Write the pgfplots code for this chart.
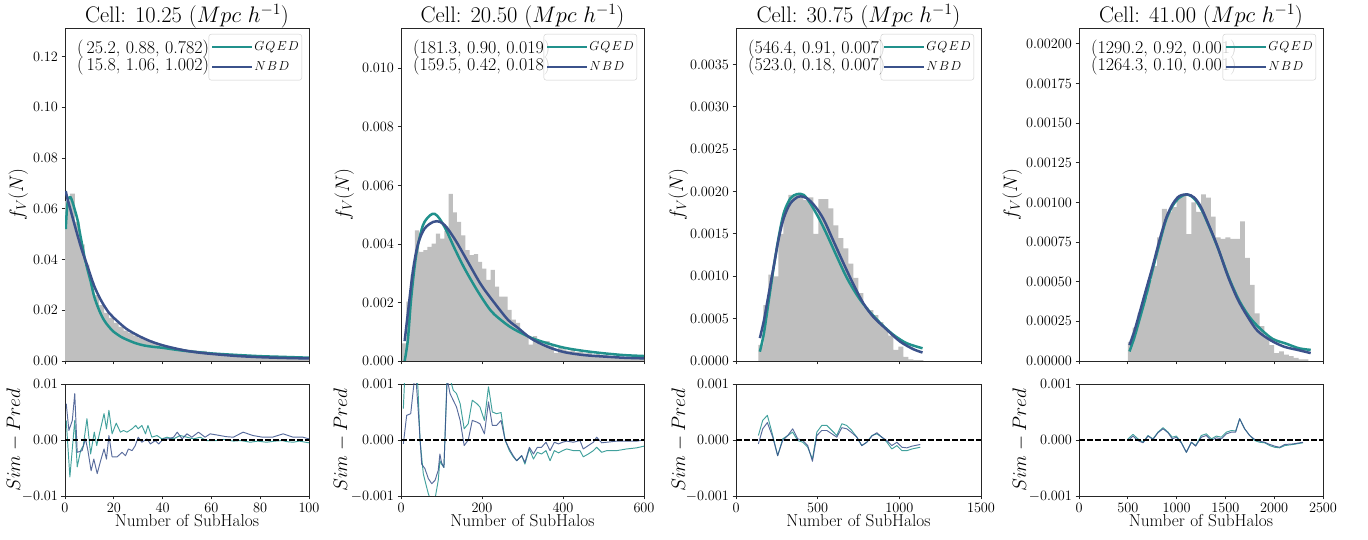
\RequirePackage{fix-cm}
\documentclass[border=0pt]{standalone}
\usepackage{pgfplots}
\pgfplotsset{compat=1.18}
\definecolor{gq}{HTML}{21918C}
\definecolor{nb}{HTML}{3B528B}
\definecolor{hist}{HTML}{BFBFBF}
\pgfplotsset{
  legend image code/.code={\draw[#1] (0pt,0pt) -- (24pt,0pt); \path (0pt,0pt) -- (40pt,0pt);},
  base/.style={scale only axis, width=244pt, tick align=outside, tick pos=left,
    major tick length=3.5pt, axis line style={black!85, line width=0.8pt},
    every tick/.style={black!85, line width=0.8pt},
    tick label style={font=\fontsize{14.3}{14}\selectfont},
    scaled ticks=false, /pgf/number format/1000 sep={},
    every axis title/.style={at={(0.5,1)}, anchor=base, yshift=5pt, inner sep=0pt, font=\fontsize{22.5}{25}\selectfont},
    every axis y label/.style={rotate=90, anchor=base, font=\fontsize{19.5}{22}\selectfont},
  },
  toppanel/.style={base, height=333pt, ymin=0, xticklabel=\empty, ylabel={$f_V(N)$},
    legend cell align=left,
    legend style={at={(1,1)}, anchor=north east, xshift=-7pt, yshift=-6pt,
      draw=black!20, fill=white, fill opacity=0.8, text opacity=1, draw opacity=1,
      rounded corners=2.5pt, font=\fontsize{13}{15}\selectfont,
      inner xsep=2pt, inner ysep=6pt, row sep=6pt,
      nodes={inner sep=1pt, text height=9pt, text depth=3pt}},
  },
  botpanel/.style={base, height=112pt, ymin=-0.001, ymax=0.001,
    ytick={-0.001,0,0.001}, yticklabels={$-0.001$,$0.000$,$0.001$},
    ylabel={$Sim-Pred$}, xlabel={Number of SubHalos},
    every axis x label/.style={at={(axis description cs:0.5,0)}, anchor=base, yshift=-31pt, font=\fontsize{17.3}{20}\selectfont},
  },
  hst/.style={ybar interval, fill=hist, draw=none, forget plot},
  cg/.style={gq, line width=2.5pt, smooth},
  cn/.style={nb, line width=2.5pt, smooth},
  rg/.style={gq, line width=0.95pt, draw opacity=0.85, line join=round},
  rn/.style={nb, line width=0.95pt, draw opacity=0.85, line join=round},
  zl/.style={black, line width=1.3pt, dash pattern=on 5.5pt off 2.5pt},
}
\newcommand{\ann}[2]{%
  \node[anchor=base west, inner sep=0pt, font=\fontsize{18}{17}\selectfont] at ([xshift=12pt,yshift=-26pt]rel axis cs:0,1) {#1};
  \node[anchor=base west, inner sep=0pt, font=\fontsize{18}{17}\selectfont] at ([xshift=12pt,yshift=-43pt]rel axis cs:0,1) {#2};}
\newcommand{\GQ}{$G\mkern1.5mu Q\mkern1.5mu E\mkern1.5mu D$}
\newcommand{\NB}{$N\mkern1.5mu B\mkern1.5mu D$}
\begin{document}
\begin{tikzpicture}
% ================= Panel 1 =================
\begin{axis}[toppanel, at={(65pt,179pt)}, anchor=south west,
  title={Cell: 10.25 $(Mpc\ h^{-1})$},
  xmin=0, xmax=100, ymax=0.1313, xtick={0,20,40,60,80,100},
  ytick={0,0.02,0.04,0.06,0.08,0.10,0.12},
  yticklabels={$0.00$,$0.02$,$0.04$,$0.06$,$0.08$,$0.10$,$0.12$},
  ylabel style={at={(axis description cs:-0.172,0.5)}}]
\addplot[hst] coordinates {(0,0.063)(2,0.066)(4,0.055)(6,0.046)(8,0.038)(10,0.031)(12,0.026)(14,0.022)(16,0.019)(18,0.017)(20,0.015)(22,0.0135)(24,0.012)(26,0.011)(28,0.010)(30,0.0092)(32,0.0085)(34,0.0080)(36,0.0072)(38,0.0066)(40,0.0060)(42,0.0056)(44,0.0052)(46,0.0050)(48,0.0046)(50,0.0044)(52,0.0042)(54,0.0040)(56,0.0040)(58,0.0034)(60,0.0031)(62,0.0029)(64,0.0027)(66,0.0025)(68,0.0023)(70,0.0022)(72,0.0021)(74,0.0020)(76,0.0019)(78,0.0018)(80,0.0016)(82,0.0016)(84,0.0015)(86,0.0014)(88,0.0014)(90,0.0013)(92,0.0013)(94,0.0012)(96,0.0012)(98,0.0011)(100,0)};
\ann{(\,25.2, 0.88, 0.782)}{(\,15.8, 1.06, 1.002)}
\addplot[cg] coordinates {(0.3,0.052)(0.8,0.060)(1.4,0.064)(2.3,0.0645)(3.1,0.0626)(4.2,0.059)(5.2,0.0554)(6.2,0.050)(7.2,0.045)(8.2,0.040)(9.3,0.0358)(10.6,0.031)(12,0.0253)(14,0.020)(16,0.0161)(18,0.0135)(20,0.0115)(23,0.0095)(25.6,0.0083)(29,0.0070)(32.5,0.0061)(36,0.0056)(40,0.0052)(45,0.0045)(50,0.0039)(60,0.0030)(70,0.0024)(80,0.0019)(90,0.0016)(100,0.0013)};
\addlegendentry{\GQ}
\addplot[cn] coordinates {(0.3,0.067)(1,0.064)(2,0.0605)(3,0.057)(5,0.050)(7,0.0435)(9,0.038)(12,0.0295)(15,0.0235)(18,0.019)(20,0.0170)(25,0.0128)(30,0.0100)(35,0.0078)(40,0.0062)(45,0.0050)(50,0.0040)(55,0.0033)(60,0.0028)(70,0.0020)(80,0.0015)(90,0.0012)(100,0.0010)};
\addlegendentry{\NB}
\end{axis}
\begin{axis}[botpanel, at={(65pt,44pt)}, anchor=south west,
  xmin=0, xmax=100, xtick={0,20,40,60,80,100}, ymin=-0.01, ymax=0.01,
  ytick={-0.01,0,0.01}, yticklabels={$-0.01$,$0.00$,$0.01$},
  ylabel style={at={(axis description cs:-0.184,0.5)}}]
\addplot[rg] coordinates {(0.5,0.0035)(2,-0.0066)(4,0.0035)(5,-0.0048)(6.4,-0.0019)(7.5,-0.001)(9,0.0038)(10.5,-0.0025)(12,0.0014)(13,-0.001)(16,0.0047)(17,0.002)(18,0.0053)(19.3,0.0011)(21,0.003)(22.7,0.0014)(24,0.0017)(25.4,0.0014)(27.5,0.002)(29,0.0026)(30,0.002)(31.5,0.0026)(33,0.0011)(34,0.0026)(35.6,0.0005)(37.7,0.0008)(39.7,0.0002)(41.8,0.0005)(44.5,0.0002)(47.2,0.0008)(50,0.0005)(52.7,0.0002)(55.4,0.0005)(58,-0.0001)(62,-0.0001)(65,0.0001)(69,-0.0002)(72,-0.0001)(76,-0.0004)(79,-0.0002)(82.6,-0.0004)(86,-0.0002)(89,-0.0001)(91,-0.0003)(93.5,-0.0004)(96,-0.0002)(100,-0.0005)};
\addplot[rn] coordinates {(0.5,0.0065)(1.6,0.0017)(3,0.0035)(4,0.0083)(5,-0.0022)(7,-0.0019)(8.4,0.0002)(9.4,-0.0019)(10.7,-0.0055)(11.8,-0.0034)(13.2,-0.006)(14.6,-0.0037)(16,-0.0016)(17,-0.0034)(18,0.0008)(19.3,-0.003)(21.4,-0.003)(23.4,-0.0022)(24.8,-0.0028)(26,-0.0016)(27.5,-0.0019)(28.8,-0.001)(30,0.0005)(31.5,-0.0004)(33.6,0.0002)(35,-0.0007)(37,-0.0001)(38.4,-0.0007)(40.4,0.0002)(42.4,0.0002)(44.5,0.0005)(46,0.0014)(48,0.0002)(50,0.0011)(52,0.0005)(54.7,0.0014)(57.4,0.0005)(59.5,0.0011)(63.5,0.0008)(66,0.0006)(69,0.0005)(73,0.0014)(77,0.0008)(81,0.0005)(85,0.0005)(89.4,0.0011)(93.5,0.0005)(97.5,0.0005)(100,0.0002)};
\addplot[zl] coordinates {(0,0)(100,0)};
\end{axis}
% ================= Panel 2 =================
\begin{axis}[toppanel, at={(401pt,179pt)}, anchor=south west, width=243pt,
  title={Cell: 20.50 $(Mpc\ h^{-1})$},
  xmin=0, xmax=600, ymax=0.01138, xtick={0,200,400,600},
  ytick={0,0.002,0.004,0.006,0.008,0.010},
  yticklabels={$0.000$,$0.002$,$0.004$,$0.006$,$0.008$,$0.010$},
  ylabel style={at={(axis description cs:-0.214,0.5)}}]
\addplot[hst] coordinates {(3,0.0006)(13.4,0.00203)(23.8,0.00294)(34.2,0.00446)(44.6,0.00373)(55,0.00379)(65.4,0.0039)(75.8,0.00401)(86.2,0.00435)(96.6,0.00418)(107,0.00445)(117.4,0.00571)(127.8,0.00508)(138.2,0.00475)(148.6,0.00429)(159,0.00379)(169.4,0.00362)(179.8,0.00365)(190.2,0.00339)(200.6,0.00316)(211,0.00277)(221.4,0.00311)(231.8,0.00254)(242.2,0.0022)(252.6,0.0022)(263,0.00175)(273.4,0.00141)(283.8,0.0013)(294.2,0.00096)(304.6,0.00085)(315,0.00056)(325.4,0.00085)(335.8,0.00068)(346.2,0.00056)(356.6,0.00068)(367,0.00051)(377.4,0.00028)(387.8,0.00045)(398.2,0.0004)(408.6,0.00035)(419,0.00038)(429.4,0.0003)(439.8,0.00032)(450.2,0.00026)(460.6,0.00028)(471,0.00022)(481.4,0.00024)(491.8,0.0002)(502.2,0.00021)(512.6,0.00016)(523,0.00018)(533.4,0.00014)(543.8,0.00012)(554.2,0.00013)(564.6,0.0001)(575,0.00011)(585.4,0.00008)(595.8,0.00007)(606.2,0)};
\ann{(181.3, 0.90, 0.019)}{(159.5, 0.42, 0.018)}
\addplot[cg] coordinates {(9,0)(17,0.00073)(25.5,0.0022)(38,0.00367)(54,0.00463)(71,0.00497)(83,0.00503)(95.5,0.00486)(112,0.00446)(132.5,0.00384)(157,0.00316)(190,0.00237)(223,0.0017)(256,0.0013)(281,0.00107)(322,0.00079)(363,0.0006)(404,0.00045)(453,0.00034)(503,0.00026)(552,0.0002)(600,0.00017)};
\addlegendentry{\GQ}
\addplot[cn] coordinates {(9,0.00068)(17,0.00164)(29.6,0.0031)(42,0.004)(58,0.00452)(79,0.00475)(95.5,0.00476)(112,0.00458)(137,0.00407)(165,0.00339)(198,0.0026)(231,0.00198)(264,0.00141)(289,0.00113)(322,0.00076)(363,0.00048)(404,0.0003)(453,0.0002)(503,0.00015)(552,0.00011)(600,0.00009)};
\addlegendentry{\NB}
\end{axis}
\begin{axis}[botpanel, at={(401pt,44pt)}, anchor=south west, width=243pt,
  xmin=0, xmax=600, xtick={0,200,400,600},
  ylabel style={at={(axis description cs:-0.222,0.5)}}]
\addplot[rg] coordinates {(5.8,0.00056)(12,0.0016)(25,0.0019)(35,0.0017)(42,0.0009)(47,0)(55,-0.0006)(59,-0.00072)(67.5,-0.00096)(76,-0.00114)(84,-0.00105)(92,-0.00072)(96,-0.00037)(100,-0.00043)(106,-0.00049)(114,0.0012)(121,0.0011)(129,0.00089)(137,0.00083)(146,0.00065)(156,0.0002)(166,0.00029)(176,0.00071)(187,0.00065)(195,0.00059)(206,0.00035)(216,0.00095)(225.5,0.0005)(236,0.00047)(247,0.00049)(257,0)(267.5,-0.00019)(277,-0.0003)(285.6,-0.00037)(298,-0.00028)(306,-0.00043)(317,-0.00016)(327,-0.00034)(336.6,-0.00022)(347,-0.00025)(358,-0.00019)(368,-0.00037)(378.6,-0.00019)(389,-0.00023)(399,-0.00019)(409,-0.00016)(425.5,-0.00019)(442,-0.00019)(450,-0.0003)(462.5,-0.00025)(475,-0.00019)(483,-0.00013)(495.5,-0.00022)(508,-0.00019)(532.5,-0.00019)(557,-0.00016)(582,-0.00014)(600,-0.00011)};
\addplot[rn] coordinates {(5.8,-0.00007)(14,0.00044)(24,0.00047)(32,0.00101)(37,0.0011)(43,0.00047)(51,-0.00043)(59,-0.00051)(67.5,-0.00069)(76,-0.00078)(84,-0.00072)(92,-0.00054)(96,-0.00025)(100,-0.0004)(106,-0.00049)(114,0.0011)(121,0.00083)(129,0.00071)(137,0.00059)(146,0.00035)(156,-0.0001)(166,0)(176,0.00035)(187,0.00032)(195,0.00029)(206,0.00011)(216,0.00068)(225.5,0.00026)(236,0.00026)(247,0.00035)(257,0)(267.5,-0.00016)(277,-0.00028)(285.6,-0.00037)(298,-0.00028)(306,-0.0004)(317,-0.00013)(327,-0.00025)(336.6,-0.00013)(347,-0.00013)(358,-0.00004)(368,-0.00019)(378.6,-0.00004)(389,-0.00007)(399,-0.00004)(409,-0.00002)(425.5,-0.00004)(442,-0.00001)(450,-0.00016)(462.5,-0.0001)(475,-0.00004)(483,0.00005)(495.5,-0.00005)(508,-0.00004)(532.5,-0.00002)(557,-0.00002)(582,-0.00002)(600,0)};
\addplot[zl] coordinates {(0,0)(600,0)};
\end{axis}
% ================= Panel 3 =================
\begin{axis}[toppanel, at={(736pt,179pt)}, anchor=south west, width=245pt,
  title={Cell: 30.75 $(Mpc\ h^{-1})$},
  xmin=0, xmax=1500, ymax=0.00393, xtick={0,500,1000,1500},
  ytick={0,0.0005,0.001,0.0015,0.002,0.0025,0.003,0.0035},
  yticklabels={$0.0000$,$0.0005$,$0.0010$,$0.0015$,$0.0020$,$0.0025$,$0.0030$,$0.0035$},
  ylabel style={at={(axis description cs:-0.216,0.5)}}]
\addplot[hst] coordinates {(137,0.00019)(167.6,0.00066)(198.2,0.00102)(228.8,0.00100)(259.4,0.0015)(290,0.00178)(320.6,0.00196)(351.2,0.00197)(381.8,0.00195)(412.4,0.0019)(443,0.00193)(473.6,0.0015)(504.2,0.00191)(534.8,0.00191)(565.4,0.0018)(596,0.0016)(626.6,0.00145)(657.2,0.00133)(687.8,0.00115)(718.4,0.00098)(749,0.0008)(779.6,0.00064)(810.2,0.0006)(840.8,0.00054)(871.4,0.00046)(902,0.00038)(932.6,0.0003)(963.2,0.00013)(993.8,0.00017)(1024.4,0.00005)(1055,0.00002)(1085.6,0.00001)(1116.2,0.00001)(1146.8,0)};
\ann{(546.4, 0.91, 0.007)}{(523.0, 0.18, 0.007)}
\addplot[cg] coordinates {(146,0.00011)(171,0.00033)(201,0.00072)(232,0.00112)(262,0.00147)(293,0.00175)(333,0.00192)(374,0.00197)(415,0.00196)(455,0.00186)(506,0.00169)(557,0.00149)(618,0.00123)(679,0.00098)(740,0.00078)(801,0.00062)(882,0.00045)(963,0.00031)(1045,0.00021)(1142,0.00015)};
\addlegendentry{\GQ}
\addplot[cn] coordinates {(146,0.00027)(171,0.00048)(201,0.0008)(232,0.00113)(262,0.00145)(293,0.00169)(333,0.00186)(384,0.00194)(435,0.00192)(486,0.00182)(537,0.00167)(598,0.00141)(659,0.00115)(720,0.0009)(780,0.00068)(841,0.00052)(923,0.00037)(1004,0.00023)(1085,0.00014)(1142,0.0001)};
\addlegendentry{\NB}
\end{axis}
\begin{axis}[botpanel, at={(736pt,44pt)}, anchor=south west, width=245pt,
  xmin=0, xmax=1500, xtick={0,500,1000,1500},
  ylabel style={at={(axis description cs:-0.208,0.5)}}]
\addplot[rg] coordinates {(137,0.00008)(163.5,0.00035)(192,0.00044)(225,0.00008)(255,-0.00028)(286,0.00002)(317,0.00008)(347,0.00014)(378,-0.00001)(409,-0.00004)(439,-0.00013)(468,-0.00034)(495,0.00014)(525,0.00026)(556,0.00026)(587,0.00017)(617,0.00008)(648,0.00029)(678,0.00026)(709,0.00017)(740,0.00005)(770,-0.0001)(801,-0.00004)(832,0.00008)(862,0.00011)(893,0.00005)(924,-0.00004)(954,-0.00016)(985,-0.0001)(1016,-0.00019)(1046,-0.00019)(1077,-0.00016)(1128,-0.00013)};
\addplot[rn] coordinates {(137,-0.00007)(163.5,0.0002)(192,0.00031)(225,0.00005)(255,-0.00028)(286,-0.00001)(317,0.00008)(347,0.0002)(378,0.00002)(409,-0.00001)(439,-0.0001)(468,-0.00038)(495,0.00008)(525,0.00017)(556,0.00017)(587,0.00011)(617,0.00005)(648,0.00022)(678,0.0002)(709,0.00013)(740,0.00005)(770,-0.0001)(801,-0.00004)(832,0.00007)(862,0.00013)(893,0.00005)(924,-0.00001)(954,-0.0001)(985,-0.00004)(1016,-0.00013)(1046,-0.00014)(1077,-0.00011)(1128,-0.00008)};
\addplot[zl] coordinates {(0,0)(1500,0)};
\end{axis}
% ================= Panel 4 =================
\begin{axis}[toppanel, at={(1079pt,179pt)}, anchor=south west,
  title={Cell: 41.00 $(Mpc\ h^{-1})$},
  xmin=0, xmax=2500, ymax=0.0021, xtick={0,500,1000,1500,2000,2500},
  ytick={0,0.00025,0.0005,0.00075,0.001,0.00125,0.0015,0.00175,0.002},
  yticklabels={$0.00000$,$0.00025$,$0.00050$,$0.00075$,$0.00100$,$0.00125$,$0.00150$,$0.00175$,$0.00200$},
  ylabel style={at={(axis description cs:-0.254,0.5)}}]
\addplot[hst] coordinates {(500,0.00012)(550,0.00021)(600,0.0003)(650,0.0004)(700,0.00051)(750,0.0006)(800,0.00078)(850,0.00096)(900,0.00094)(950,0.00097)(1000,0.00104)(1050,0.00104)(1100,0.0008)(1150,0.001)(1200,0.00094)(1250,0.00105)(1300,0.00103)(1350,0.00091)(1400,0.00078)(1450,0.00077)(1500,0.00078)(1550,0.00077)(1600,0.00077)(1650,0.00088)(1700,0.00065)(1750,0.00048)(1800,0.0003)(1850,0.00022)(1900,0.00015)(1950,0.0001)(2000,0.00005)(2050,0.00006)(2100,0.00004)(2150,0.00003)(2200,0.00002)(2250,0.00001)(2300,0.00001)(2350,0)};
\ann{(1290.2, 0.92, 0.001)}{(1264.3, 0.10, 0.001)}
\addplot[cg] coordinates {(517,0.00006)(568,0.00015)(619,0.00026)(687,0.00041)(756,0.00058)(824,0.00074)(892,0.00089)(960,0.00098)(1028,0.00103)(1096,0.00105)(1148,0.00104)(1199,0.00101)(1267,0.00094)(1352,0.00082)(1437,0.00069)(1539,0.00052)(1642,0.00038)(1744,0.00028)(1846,0.00021)(1982,0.00014)(2119,0.00011)(2255,0.00008)(2374,0.00007)};
\addlegendentry{\GQ}
\addplot[cn] coordinates {(517,0.0001)(568,0.00019)(619,0.0003)(687,0.00045)(756,0.0006)(824,0.00076)(892,0.0009)(960,0.00099)(1028,0.00104)(1113,0.00105)(1182,0.00103)(1250,0.00097)(1335,0.00085)(1420,0.00072)(1522,0.00054)(1625,0.00039)(1727,0.00028)(1829,0.00019)(1965,0.00013)(2102,0.00009)(2238,0.00007)(2374,0.00005)};
\addlegendentry{\NB}
\end{axis}
\begin{axis}[botpanel, at={(1079pt,44pt)}, anchor=south west,
  xmin=0, xmax=2500, xtick={0,500,1000,1500,2000,2500},
  ylabel style={at={(axis description cs:-0.217,0.5)}}]
\addplot[rg] coordinates {(502,0.00002)(553,0.0001)(604,0.00002)(656,-0.00004)(707,0.00008)(758,0.00002)(809,0.00014)(861,0.00022)(912,0.00014)(956,0.00005)(997,0.00007)(1048,-0.00004)(1100,-0.00022)(1151,-0.00004)(1195,-0.0001)(1253,0.00008)(1305,0.00011)(1356,0.00002)(1407,0.00007)(1458,0.00005)(1510,0.00014)(1561,0.00017)(1605,0.00016)(1646,0.00038)(1697,0.0002)(1749,0.00008)(1800,-0.00001)(1851,-0.00004)(1902,-0.00005)(1954,-0.0001)(2005,-0.00013)(2056,-0.00014)(2107,-0.0001)(2193,-0.00008)(2295,-0.00005)};
\addplot[rn] coordinates {(502,-0.00001)(553,0.00007)(604,-0.00001)(656,-0.00005)(707,0.00007)(758,0.00001)(809,0.00013)(861,0.0002)(912,0.00013)(956,0.00002)(997,0.00005)(1048,-0.00005)(1100,-0.00022)(1151,-0.00004)(1195,-0.00011)(1253,0.00005)(1305,0.00008)(1356,-0.00001)(1407,0.00004)(1458,0.00002)(1510,0.00011)(1561,0.00014)(1605,0.00014)(1646,0.00038)(1697,0.0002)(1749,0.00008)(1800,0.00001)(1851,-0.00002)(1902,-0.00004)(1954,-0.00008)(2005,-0.00011)(2056,-0.00013)(2107,-0.00008)(2193,-0.00007)(2295,-0.00004)};
\addplot[zl] coordinates {(0,0)(2500,0)};
\end{axis}
\pgfresetboundingbox
\path[use as bounding box] (0,0) rectangle (1368pt,540pt);
\end{tikzpicture}
\end{document}
